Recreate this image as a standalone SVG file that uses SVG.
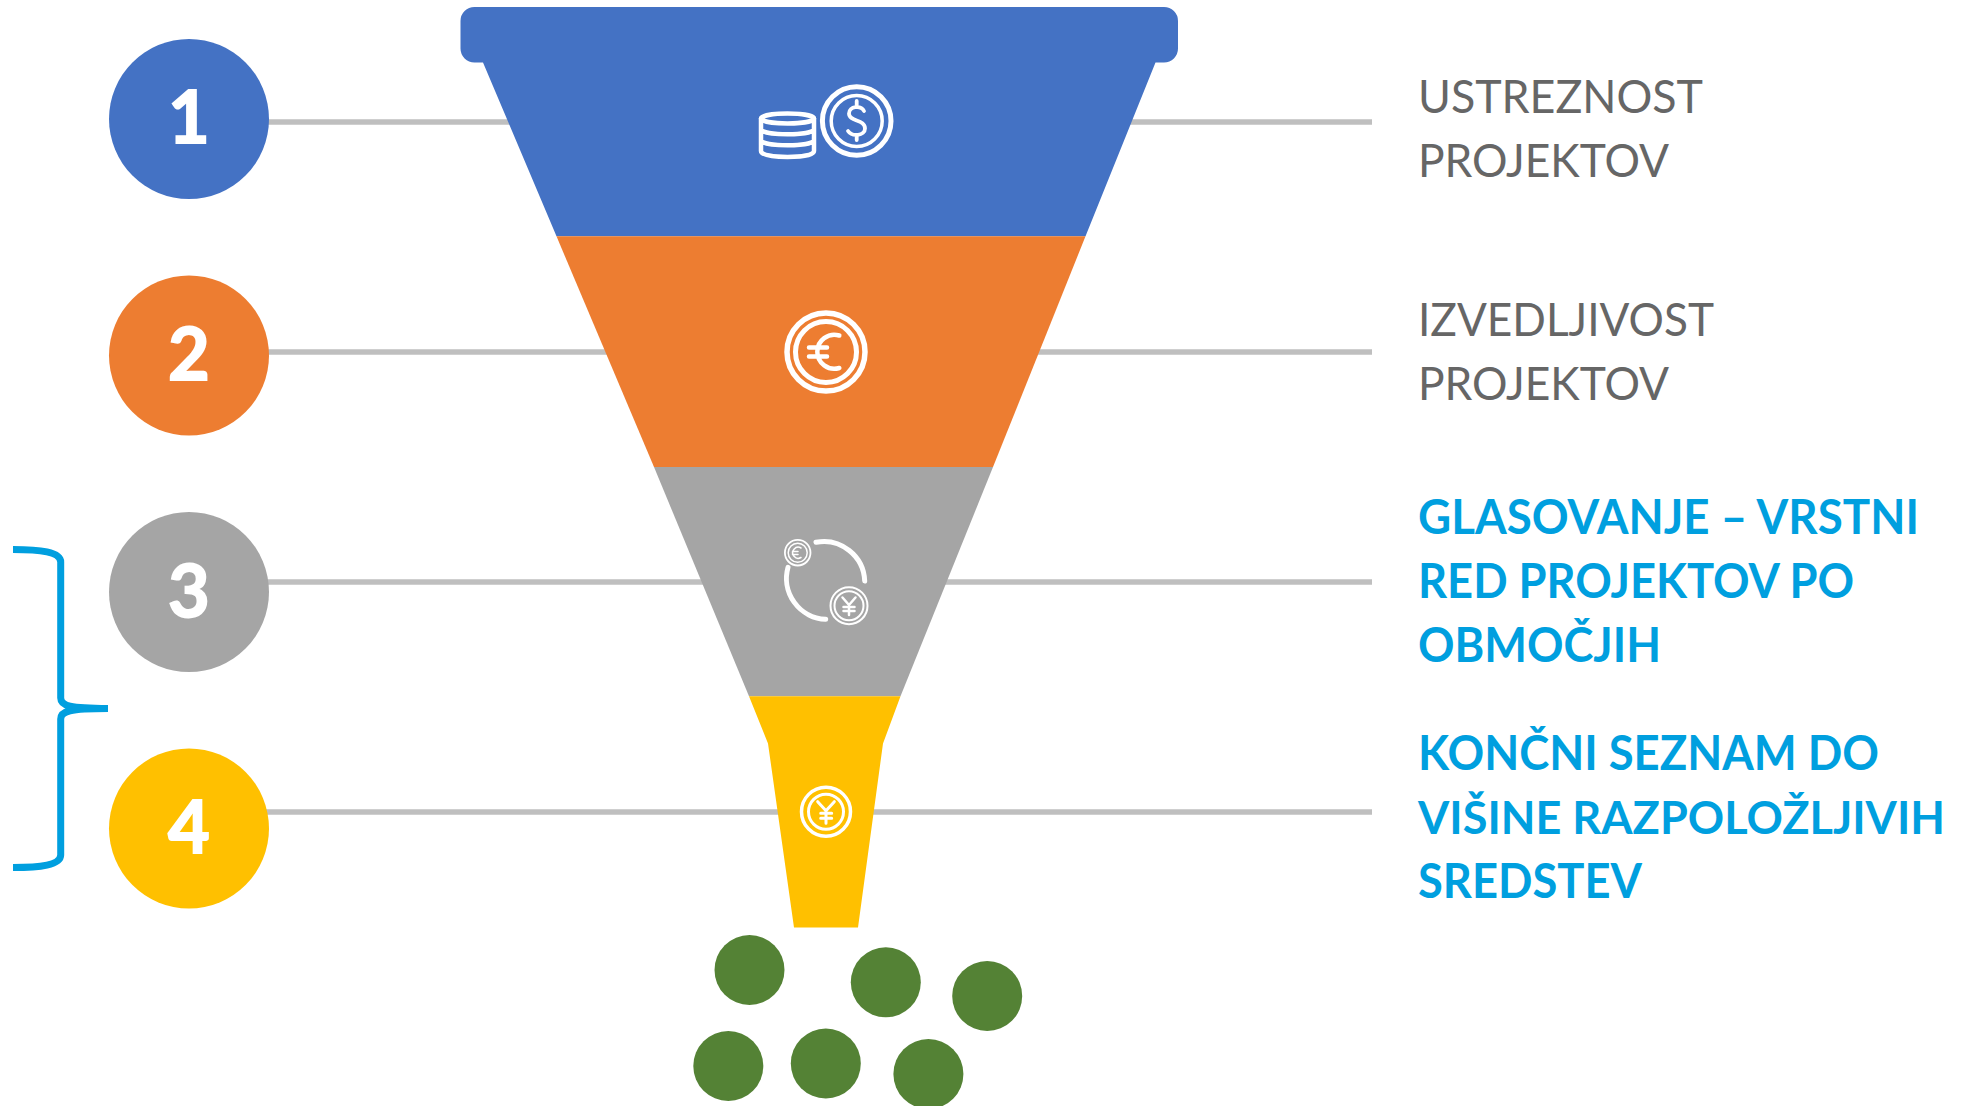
<svg xmlns="http://www.w3.org/2000/svg" width="1961" height="1106" viewBox="0 0 1961 1106">
<style>
.ln{stroke:#BFBFBF;stroke-width:5.500;fill:none}
.w{stroke:#fff;fill:none;stroke-linecap:round;stroke-linejoin:round}
.num{font-family:"Lato","Liberation Sans",sans-serif;font-weight:700;font-size:72px;fill:#fff;stroke:#fff;stroke-width:1.800;text-anchor:middle}
.t{font-family:"Lato","Open Sans",sans-serif;font-size:47px;fill:#666}
.b{font-family:"Lato","Open Sans",sans-serif;font-size:47px;font-weight:700;fill:#009FDF}
.g{fill:#548235}
</style>
<rect width="1961" height="1106" fill="#fff"/>
<g id="connectors">
<path class="ln" d="M265 122H1372"/>
<path class="ln" d="M265 352H1372"/>
<path class="ln" d="M265 582H1372"/>
<path class="ln" d="M265 812H1372"/>
<path d="M13 549.500C40 549.500 60.700 552 60.700 562V698C60.700 706 70 708.500 108 708.500C70 708.500 60.700 711 60.700 719V855C60.700 865 40 867.500 13 867.500" fill="none" stroke="#009FDF" stroke-width="7"/>
</g>
<g id="funnel-1">
<path fill="#4472C4" d="M474.500 7H1164a14 14 0 0 1 14 14V48.500a14 14 0 0 1 -14 14H1155.500L1085.500 236.300H556.500L483 62.500H474.500a14 14 0 0 1 -14 -14V21a14 14 0 0 1 14 -14Z"/>
<g class="w">
<circle cx="856.700" cy="121" r="34.300" stroke-width="5"/>
<circle cx="856.700" cy="121" r="25.500" stroke-width="3.500"/>
<path stroke-width="3.800" d="M864 111C861 105 849 106 849 113.500C849 122 865 119 865 128.500C865 136 852 137 848 131M856.700 101V107M856.700 135V140"/>
<g stroke-width="4.500">
<ellipse cx="787.500" cy="118.500" rx="26.500" ry="5"/>
<path d="M761 118.500V151C761 159 814 159 814 151V118.500M761 129C761 136 814 136 814 129M761 140C761 147 814 147 814 140"/>
</g>
</g>
</g>
<g id="funnel-2">
<path fill="#ED7D31" d="M556.500 236.300H1085.500L993 467H654Z"/>
<g class="w">
<circle cx="826" cy="352" r="39" stroke-width="5.500"/>
<circle cx="826" cy="352" r="30.500" stroke-width="5"/>
<path stroke-width="4.500" d="M839.300 335.500A17 17 0 1 0 839.300 368M809 347.500H827M809 356.500H827"/>
</g>
</g>
<g id="funnel-3">
<path fill="#A5A5A5" d="M654 467H993L900.500 696.300H749Z"/>
<g class="w">
<path stroke-width="5" d="M816 542.300A41 41 0 0 1 864.700 581M788 567.300A41 41 0 0 0 825.700 619.300"/>
<circle cx="797.700" cy="552.700" r="12.800" stroke-width="1.800"/>
<circle cx="797.700" cy="552.700" r="9.500" stroke-width="1.500"/>
<path stroke-width="1.500" d="M801 548A5.500 5.500 0 1 0 801 557.500M792.500 551.500H798M792.500 554.500H798"/>
<circle cx="849" cy="605.700" r="18.500" stroke-width="2"/>
<circle cx="849" cy="605.700" r="14.500" stroke-width="2"/>
<path stroke-width="2.500" d="M842.500 597.500L849 605L855.500 597.500M849 605V615M843.500 607H854.500M843.500 611H854.500"/>
</g>
</g>
<g id="funnel-4">
<path fill="#FFC000" d="M749 696.300H900.500L883 743.500L858 927.500H794L768 743.500Z"/>
<g class="w">
<circle cx="826" cy="811.700" r="24.500" stroke-width="3.500"/>
<circle cx="826" cy="811.700" r="17.500" stroke-width="3"/>
<path stroke-width="3" d="M817.700 801.700L826 810.700L834.300 801.700M826 810.700V823.300M820.700 813.300H831.700M820.700 818.300H831.700"/>
</g>
</g>
<g id="step-1"><circle cx="189" cy="119" r="80" fill="#4472C4"/><text class="num" x="189" y="143">1</text></g>
<g id="step-2"><circle cx="189" cy="355.500" r="80" fill="#ED7D31"/><text class="num" x="189" y="380">2</text></g>
<g id="step-3"><circle cx="189" cy="592" r="80" fill="#A5A5A5"/><text class="num" x="189" y="617">3</text></g>
<g id="step-4"><circle cx="189" cy="828.500" r="80" fill="#FFC000"/><text class="num" x="189" y="853">4</text></g>
<g id="label-1"><text class="t" x="1418" y="112.500" textLength="285" lengthAdjust="spacingAndGlyphs">USTREZNOST</text><text class="t" x="1418" y="176.500" textLength="251" lengthAdjust="spacingAndGlyphs">PROJEKTOV</text></g>
<g id="label-2"><text class="t" x="1418" y="335.500" textLength="296" lengthAdjust="spacingAndGlyphs">IZVEDLJIVOST</text><text class="t" x="1418" y="399.500" textLength="251" lengthAdjust="spacingAndGlyphs">PROJEKTOV</text></g>
<g id="label-3"><text class="b" x="1418" y="534" textLength="501" lengthAdjust="spacingAndGlyphs">GLASOVANJE – VRSTNI</text><text class="b" x="1418" y="598" textLength="436" lengthAdjust="spacingAndGlyphs">RED PROJEKTOV PO</text><text class="b" x="1418" y="662" textLength="243" lengthAdjust="spacingAndGlyphs">OBMOČJIH</text></g>
<g id="label-4"><text class="b" x="1418" y="770" textLength="461" lengthAdjust="spacingAndGlyphs">KONČNI SEZNAM DO</text><text class="b" style="font-size:46px" x="1418" y="834" textLength="527" lengthAdjust="spacingAndGlyphs">VIŠINE RAZPOLOŽLJIVIH</text><text class="b" x="1418" y="898" textLength="224" lengthAdjust="spacingAndGlyphs">SREDSTEV</text></g>
<g id="result-1"><circle class="g" cx="749.500" cy="970" r="35"/></g>
<g id="result-2"><circle class="g" cx="885.800" cy="982.300" r="35"/></g>
<g id="result-3"><circle class="g" cx="987.200" cy="996" r="35"/></g>
<g id="result-4"><circle class="g" cx="728.300" cy="1066" r="35"/></g>
<g id="result-5"><circle class="g" cx="825.800" cy="1063.500" r="35"/></g>
<g id="result-6"><circle class="g" cx="928.400" cy="1074" r="35"/></g>
</svg>
